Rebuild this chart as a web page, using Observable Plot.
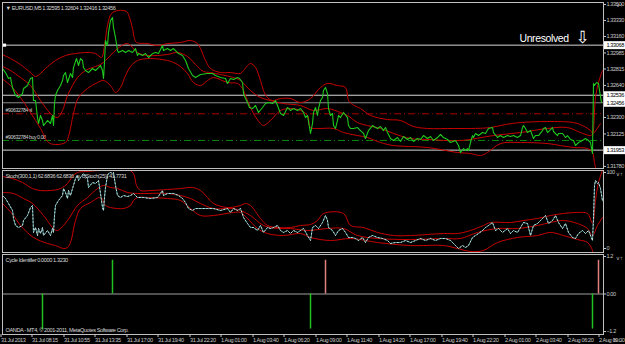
<!DOCTYPE html>
<html><head><meta charset="utf-8">
<script src="https://cdn.jsdelivr.net/npm/d3@7"></script>
<script src="https://cdn.jsdelivr.net/npm/@observablehq/plot@0.6"></script>
<style>
html,body{margin:0;padding:0;background:#000;}
#chart{position:relative;width:625px;height:344px;background:#000;overflow:hidden;}
#chart svg{display:block;}
</style></head><body><div id="chart"></div>
<script>
const FONT = '"Liberation Sans",Arial,sans-serif';

// ---------- data ----------
const symbolHeader = "\u25BC EURUSD,M5 1.32595 1.32604 1.32416 1.32456";
const stochHeader = "Stoch(300,1,1) 62.6836 62.6836  \u221E  c(Stoch(25)) 41.7731";
const cycleHeader = "Cycle Identifier 0.0000 1.3230";
const copyright = "OANDA - MT4, \u00A9 2001-2011, MetaQuotes Software Corp.";

const timeTickBars = [0,31,63,94,126,157,189,220,252,283,315,346,378,409,441,472,504,535,567,598];
const timeTickLabels = ["31 Jul 2013","31 Jul 08:15","31 Jul 10:55","31 Jul 13:35","31 Jul 17:00","31 Jul 19:40","31 Jul 22:20","1 Aug 01:00","1 Aug 03:40","1 Aug 06:20","1 Aug 09:00","1 Aug 11:40","1 Aug 14:20","1 Aug 17:00","1 Aug 19:40","1 Aug 22:20","2 Aug 01:00","2 Aug 03:40","2 Aug 06:20","2 Aug 09:00"];

const priceTicks = [1.335,1.3333,1.3316,1.32985,1.32815,1.3264,1.3247,1.323,1.32125,1.3195,1.3178];
const whiteLevels = [1.33068,1.32536,1.31953];
const bidLevel = [1.32456];
const boxLevels = [1.33068,1.32536,1.32456,1.31953];
const orderLevels = [1.32339,1.32056];
const orderLabels = ["#90632784 sl","#90632784 buy 0.08"];
const orderKinds = ["sl","buy"];
const note = {text:"Unresolved", bar:519, arrowBar:582, level:1.33068};

const price = [[2,1.32820],[5,1.32777],[8,1.32714],[10,1.32724],[12,1.32618],[15,1.32533],[18,1.32512],[22,1.32554],[23,1.32607],[27,1.32639],[30,1.32714],[32,1.32724],[33,1.32480],[35,1.32480],[37,1.32299],[38,1.32236],[40,1.32321],[42,1.32268],[43,1.32214],[47,1.32268],[50,1.32236],[52,1.32321],[53,1.32214],[54,1.32448],[55,1.32533],[57,1.32586],[60,1.32639],[62,1.32692],[63,1.32745],[65,1.32777],[67,1.32671],[70,1.32767],[72,1.32724],[73,1.32830],[76,1.32926],[78,1.32852],[80,1.32926],[82,1.32905],[83,1.32830],[85,1.32799],[88,1.32777],[92,1.32820],[95,1.32799],[98,1.32830],[100,1.32852],[102,1.32799],[103,1.32714],[104,1.32884],[105,1.33117],[107,1.33064],[108,1.33202],[110,1.33330],[112,1.33361],[113,1.33255],[115,1.33149],[117,1.33011],[118,1.32990],[122,1.33011],[125,1.32990],[128,1.33011],[132,1.32990],[135,1.33032],[137,1.32958],[138,1.32979],[142,1.32958],[145,1.32979],[148,1.32937],[152,1.32979],[155,1.32990],[158,1.32979],[162,1.33064],[163,1.33011],[167,1.33032],[170,1.33011],[173,1.33032],[175,1.33011],[178,1.32979],[182,1.32958],[185,1.32905],[188,1.32820],[192,1.32745],[195,1.32724],[200,1.32756],[207,1.32767],[212,1.32767],[215,1.32745],[220,1.32724],[225,1.32714],[227,1.32661],[230,1.32714],[233,1.32703],[237,1.32724],[239,1.32714],[242,1.32671],[243,1.32554],[245,1.32501],[247,1.32459],[249,1.32406],[252,1.32395],[255,1.32427],[258,1.32353],[262,1.32406],[265,1.32448],[268,1.32459],[272,1.32448],[275,1.32480],[277,1.32427],[280,1.32342],[283,1.32321],[287,1.32406],[290,1.32374],[293,1.32395],[297,1.32374],[300,1.32395],[303,1.32353],[305,1.32299],[307,1.32321],[310,1.32130],[312,1.32236],[313,1.32353],[315,1.32406],[317,1.32321],[318,1.32395],[320,1.32480],[322,1.32512],[323,1.32586],[325,1.32618],[327,1.32554],[328,1.32395],[330,1.32321],[332,1.32342],[333,1.32214],[335,1.32183],[337,1.32268],[338,1.32321],[340,1.32299],[343,1.32353],[347,1.32299],[348,1.32214],[350,1.32183],[353,1.32183],[357,1.32193],[360,1.32161],[363,1.32130],[365,1.32076],[368,1.32161],[372,1.32214],[375,1.32193],[377,1.32183],[380,1.32204],[383,1.32161],[385,1.32193],[387,1.32140],[390,1.32076],[393,1.32055],[397,1.32087],[400,1.32045],[403,1.32098],[407,1.32066],[410,1.32087],[413,1.32045],[417,1.32076],[420,1.32066],[423,1.32108],[427,1.32076],[430,1.32098],[433,1.32055],[437,1.32087],[440,1.32119],[443,1.32087],[447,1.32066],[450,1.32034],[455,1.32055],[458,1.32002],[460,1.31928],[463,1.31970],[465,1.31949],[467,1.31970],[468,1.31949],[470,1.32034],[472,1.32108],[473,1.32087],[475,1.32130],[478,1.32108],[482,1.32140],[485,1.32130],[488,1.32183],[492,1.32193],[493,1.32140],[497,1.32087],[500,1.32108],[503,1.32087],[507,1.32108],[510,1.32098],[513,1.32108],[517,1.32087],[520,1.32108],[522,1.32193],[523,1.32214],[525,1.32183],[527,1.32140],[530,1.32161],[533,1.32076],[535,1.32108],[538,1.32108],[542,1.32161],[543,1.32183],[545,1.32193],[547,1.32140],[550,1.32172],[552,1.32193],[553,1.32151],[557,1.32108],[558,1.32130],[562,1.32130],[565,1.32087],[567,1.32108],[570,1.32066],[573,1.32055],[575,1.32002],[578,1.32034],[582,1.32055],[585,1.32076],[588,1.32055],[590,1.32034],[592,1.31917],[593,1.32661],[594,1.32639],[596,1.32671],[598,1.32661],[599,1.32586],[601,1.32459]];

const bandUpper = [[0,1.32979],[10,1.32926],[20,1.32862],[30,1.32777],[35,1.32735],[40,1.32767],[45,1.32820],[55,1.32905],[65,1.32958],[75,1.32979],[85,1.32990],[95,1.32979],[101,1.32937],[104,1.33064],[107,1.33277],[111,1.33404],[118,1.33436],[126,1.33425],[129,1.33361],[132,1.33245],[134,1.33138],[136,1.33096],[147,1.33085],[157,1.33064],[167,1.33085],[180,1.33096],[190,1.33117],[197,1.33085],[200,1.33032],[205,1.32905],[210,1.32820],[220,1.32777],[230,1.32777],[240,1.32767],[243,1.32799],[250,1.32873],[255,1.32830],[260,1.32692],[263,1.32586],[267,1.32512],[272,1.32480],[280,1.32501],[290,1.32501],[300,1.32459],[310,1.32501],[320,1.32618],[327,1.32661],[337,1.32639],[345,1.32618],[348,1.32480],[352,1.32438],[360,1.32395],[370,1.32321],[387,1.32278],[400,1.32268],[413,1.32204],[427,1.32183],[453,1.32183],[470,1.32183],[490,1.32193],[505,1.32225],[520,1.32246],[547,1.32257],[573,1.32246],[582,1.32214],[590,1.32161],[592,1.32130],[595,1.32512],[598,1.32671],[602,1.32799]];

const bandMiddle = [[0,1.32852],[10,1.32799],[20,1.32724],[30,1.32639],[40,1.32480],[50,1.32342],[57,1.32299],[62,1.32374],[67,1.32533],[72,1.32639],[77,1.32724],[85,1.32799],[95,1.32841],[100,1.32862],[105,1.32905],[110,1.32958],[117,1.33032],[127,1.33085],[137,1.32990],[147,1.32958],[167,1.32969],[177,1.32990],[187,1.32947],[197,1.32841],[203,1.32788],[210,1.32777],[220,1.32756],[233,1.32724],[240,1.32692],[250,1.32586],[260,1.32512],[270,1.32480],[283,1.32448],[300,1.32427],[313,1.32374],[327,1.32395],[340,1.32353],[347,1.32321],[357,1.32246],[367,1.32214],[380,1.32183],[393,1.32130],[410,1.32076],[427,1.32066],[460,1.32055],[493,1.32108],[520,1.32140],[547,1.32183],[567,1.32193],[580,1.32140],[590,1.32108],[593,1.32130],[600,1.32236]];

const bandLower = [[0,1.32724],[10,1.32639],[20,1.32512],[30,1.32353],[40,1.32183],[48,1.32034],[55,1.32013],[65,1.32034],[68,1.32098],[73,1.32342],[78,1.32512],[87,1.32607],[97,1.32671],[103,1.32692],[110,1.32639],[115,1.32565],[120,1.32618],[125,1.32745],[130,1.32841],[137,1.32905],[150,1.32926],[167,1.32905],[173,1.32884],[180,1.32841],[187,1.32767],[193,1.32671],[200,1.32639],[207,1.32692],[213,1.32724],[227,1.32671],[237,1.32661],[242,1.32607],[247,1.32480],[253,1.32342],[260,1.32236],[263,1.32214],[270,1.32268],[280,1.32374],[290,1.32395],[300,1.32374],[307,1.32321],[310,1.32193],[317,1.32183],[333,1.32183],[343,1.32140],[357,1.32108],[367,1.32087],[380,1.32034],[393,1.32002],[427,1.31981],[457,1.31928],[470,1.31917],[480,1.31896],[487,1.31928],[500,1.32023],[520,1.32034],[547,1.32023],[560,1.32002],[573,1.31981],[587,1.31970],[592,1.31928],[594,1.31822],[596,1.31715]];

const stoch = [[2,69.7],[5,65.8],[8,59.2],[12,50.0],[13,39.5],[15,30.3],[18,27.6],[22,30.3],[23,36.8],[27,43.4],[30,53.9],[32,56.6],[33,21.1],[35,27.6],[37,17.1],[38,26.3],[40,19.7],[42,27.6],[43,17.1],[47,23.7],[50,17.1],[52,26.3],[53,21.1],[54,43.4],[55,56.6],[58,63.2],[62,69.7],[63,78.9],[65,73.7],[67,65.8],[68,76.3],[70,69.7],[72,78.9],[73,82.9],[75,92.1],[77,96.1],[78,89.5],[80,93.4],[83,98.7],[87,92.1],[88,80.3],[92,86.8],[95,85.5],[98,89.5],[100,72.4],[102,53.9],[103,50.0],[104,67.1],[105,80.3],[107,96.1],[108,98.7],[110,100],[112,98.7],[113,100],[115,82.9],[117,69.7],[120,67.1],[123,69.7],[127,68.4],[130,69.7],[133,72.4],[137,67.1],[143,67.1],[150,65.8],[157,67.1],[162,76.3],[163,69.7],[167,72.4],[173,72.4],[178,69.7],[182,65.8],[185,60.5],[188,52.6],[192,50.0],[195,52.6],[200,52.6],[207,52.6],[213,52.6],[220,50.0],[227,52.6],[230,47.4],[233,52.6],[237,50.0],[240,52.6],[243,40.8],[247,32.9],[250,27.6],[253,27.6],[257,23.7],[260,30.3],[263,21.1],[267,27.6],[270,26.3],[273,27.6],[277,30.3],[280,23.7],[283,21.1],[287,23.7],[290,19.7],[293,23.7],[297,21.1],[300,23.7],[303,26.3],[307,17.1],[310,10.5],[312,27.6],[315,30.3],[318,26.3],[322,34.2],[325,43.4],[327,36.8],[328,27.6],[332,23.7],[335,17.1],[338,23.7],[342,26.3],[345,21.1],[348,14.5],[352,14.5],[355,13.2],[358,10.5],[362,14.5],[365,7.9],[368,14.5],[372,17.1],[377,14.5],[382,13.2],[387,10.5],[390,6.6],[395,7.9],[400,7.9],[405,10.5],[410,7.9],[415,10.5],[420,13.2],[425,10.5],[430,13.2],[435,10.5],[440,13.2],[445,13.2],[450,10.5],[455,3.9],[458,0],[462,3.9],[465,1.3],[468,3.9],[472,14.5],[475,17.1],[478,19.7],[482,23.7],[485,27.6],[488,30.3],[492,34.2],[495,23.7],[498,26.3],[502,21.1],[507,26.3],[510,19.7],[513,23.7],[517,21.1],[520,27.6],[523,34.2],[527,32.9],[530,17.1],[533,30.3],[537,32.9],[540,36.8],[545,43.4],[548,32.9],[552,36.8],[555,43.4],[558,34.2],[562,26.3],[565,32.9],[568,21.1],[572,14.5],[575,13.2],[578,19.7],[582,23.7],[585,19.7],[588,23.7],[592,10.5],[593,39.5],[594,82.9],[595,89.5],[597,85.5],[598,86.8],[600,78.9],[602,62.7]];

const stochUpper = [[2,94.7],[12,92.1],[22,86.8],[32,78.9],[40,76.3],[50,76.3],[60,78.9],[67,85.5],[72,94.7],[77,100],[85,101.3],[100,102.6],[113,102.6],[127,103.9],[133,98.7],[136,82.9],[140,76.3],[150,76.3],[167,77.6],[180,78.9],[192,80.3],[200,76.3],[207,67.1],[213,59.2],[227,53.9],[240,56.6],[245,59.2],[250,56.6],[260,39.5],[267,30.3],[277,27.6],[290,27.6],[300,30.3],[310,31.6],[317,36.8],[323,46.1],[343,46.1],[350,30.3],[363,27.6],[377,21.1],[393,17.1],[410,17.1],[443,19.7],[457,19.7],[470,23.7],[483,30.3],[490,34.2],[510,34.2],[523,36.8],[537,39.5],[550,43.4],[563,46.1],[577,47.4],[587,46.1],[592,32.9],[595,63.2],[598,86.8],[602,102.6]];
const stochMiddle = [[2,73.7],[13,72.4],[23,65.8],[32,59.2],[43,43.4],[53,26.3],[57,23.7],[67,36.8],[77,56.6],[87,67.1],[97,78.9],[103,82.9],[110,80.3],[117,78.9],[127,73.7],[137,72.4],[167,72.4],[180,69.7],[190,65.8],[200,59.2],[213,52.6],[233,52.6],[240,50.0],[250,43.4],[263,30.3],[277,26.3],[290,26.3],[307,23.7],[327,26.3],[343,26.3],[357,17.1],[377,13.2],[410,11.8],[443,13.2],[460,13.2],[477,21.1],[497,26.3],[517,26.3],[537,30.3],[550,34.2],[563,36.8],[577,32.9],[587,26.3],[592,17.1],[597,30.3],[602,40.8]];
const stochLower = [[2,59.2],[7,52.6],[13,43.4],[20,30.3],[33,14.5],[47,6.6],[55,3.9],[63,0],[67,1.3],[70,7.9],[75,36.8],[80,52.6],[90,60.5],[100,67.1],[105,56.6],[110,53.9],[117,52.6],[123,52.6],[130,56.6],[133,63.2],[137,67.1],[147,67.1],[167,65.8],[180,63.2],[190,52.6],[200,43.4],[213,43.4],[233,47.4],[240,47.4],[247,39.5],[257,26.3],[267,19.7],[283,17.1],[300,19.7],[310,14.5],[330,10.5],[350,13.2],[377,7.9],[410,3.9],[443,3.9],[457,0],[470,-3.9],[483,-2.6],[497,7.9],[517,14.5],[537,17.1],[550,21.1],[563,17.1],[577,11.8],[587,7.9],[592,-2.6],[594,-18.4]];

const cycleBars = [42,112,310,325,592,598];
const cycleVals = [-1.15,1.08,-1.12,1.08,-1.12,1.08];
const cycleKind = ["low","low","low","high","low","high"];

// ---------- layout ----------
const W = 625, MR = 22, ML = 2;
const frameRight = W - MR;
const xScale = {domain:[0, W], range:[0, W]};
const fmt5 = d3.format(".5f");
const baseStyle = {background:"#000", color:"#c8c8c8", fontFamily: FONT, fontSize:"5.6px", letterSpacing:"-0.4px", overflow:"visible"};
const RED = "#c80000", GREEN = "#1ec81e";
const P = arr => arr.map(([b,v]) => ({b, v}));
const L = (arr, o) => Plot.line(P(arr), {x:"b", y:"v", clip:true, strokeWidth: 1, ...o});

const mainPlot = Plot.plot({
  width: W, height: 169, marginLeft: ML, marginRight: MR, marginTop: 2, marginBottom: 1,
  style: baseStyle,
  x: {...xScale, axis: null},
  y: {domain:[1.31758, 1.33521], axis: null},
  marks: [
    Plot.ruleY(whiteLevels, {stroke:"#d8d8d8"}),
    Plot.ruleY(bidLevel, {stroke:"#8c8c8c"}),
    Plot.ruleY(orderLevels, {stroke: (d,i) => orderKinds[i] === "sl" ? "#a80000" : "#0a8a0a", strokeDasharray:"7,3,1,3"}),
    Plot.text(orderLevels, {y: d=>d, text: (d,i)=>orderLabels[i], frameAnchor:"left", dx: 3, dy: -3.5, textAnchor:"start", fill:"#d0d0d0", fontSize: 5.2}),
    L(bandUpper, {stroke: RED, curve:"catmull-rom"}),
    L(bandMiddle, {stroke: RED, curve:"catmull-rom"}),
    L(bandLower, {stroke: RED, curve:"catmull-rom"}),
    L(price, {stroke: GREEN, strokeWidth: 1.1}),
    Plot.dot([note.level], {y: d=>d, frameAnchor:"left", dx: 2, symbol:"square", r: 1.8, fill:"#fff"}),
    Plot.text([note.text], {x: note.bar, y: note.level, dy: -7, textAnchor:"start", fill:"#fff", fontSize: 10.5}),
    Plot.text(["\u21E9"], {x: note.arrowBar, y: note.level, dy: -8, fill:"#fff", fontSize: 17, fontFamily:"DejaVu Sans, sans-serif"}),
    Plot.text([symbolHeader], {frameAnchor:"top-left", dx: 3, dy: 3.5, textAnchor:"start", fill:"#d8d8d8"}),
    Plot.frame({stroke:"#c0c0c0"}),
    Plot.axisY({ticks: priceTicks, anchor:"right", tickFormat: fmt5, tickSize: 2, tickPadding: 1}),
    Plot.ruleY(boxLevels, {x1: frameRight + 1, x2: W, stroke:"#fff", strokeWidth: 8}),
    Plot.text(boxLevels, {y: d=>d, text: fmt5, frameAnchor:"right", dx: 3, textAnchor:"start", fill:"#000"})
  ]
});

const stochPlot = Plot.plot({
  width: W, height: 84, marginLeft: ML, marginRight: MR, marginTop: 1, marginBottom: 1,
  style: baseStyle,
  x: {...xScale, axis: null},
  y: {domain:[-5.26, 102.63], axis: null},
  marks: [
    L(stochUpper, {stroke: RED, curve:"catmull-rom"}),
    L(stochMiddle, {stroke: RED, curve:"catmull-rom"}),
    L(stochLower, {stroke: RED, curve:"catmull-rom"}),
    L(stoch, {stroke:"#4f9696"}),
    L(stoch, {stroke:"#ffffff", strokeDasharray:"1,2.5", strokeOpacity: 0.7}),
    Plot.text([stochHeader], {frameAnchor:"top-left", dx: 3, dy: 4, textAnchor:"start", fill:"#d8d8d8"}),
    Plot.frame({stroke:"#c0c0c0"}),
    Plot.axisY({ticks:[0,100], anchor:"right", tickSize: 2, tickPadding: 1})
  ]
});

const cycle = cycleBars.map((b,i) => ({b, v: cycleVals[i], k: cycleKind[i]}));
const tickLabel = new Map(timeTickBars.map((b,i) => [b, timeTickLabels[i]]));
const cyclePlot = Plot.plot({
  width: W, height: 91, marginLeft: ML, marginRight: MR, marginTop: 1, marginBottom: 10,
  style: baseStyle,
  x: {...xScale, axis: null},
  y: {domain:[-1.296, 1.264], axis: null},
  marks: [
    Plot.ruleY([0], {stroke:"#a0a0a0"}),
    Plot.ruleX(cycle, {x:"b", y1: 0, y2:"v", stroke: d => d.k === "high" ? "#e08080" : "#22c022", strokeWidth: 1.5}),
    Plot.text([cycleHeader], {frameAnchor:"top-left", dx: 3, dy: 4, textAnchor:"start", fill:"#d8d8d8"}),
    Plot.text([copyright], {frameAnchor:"bottom-left", dx: 3, dy: -3, textAnchor:"start", fill:"#d8d8d8"}),
    Plot.frame({stroke:"#c0c0c0"}),
    Plot.axisY({ticks:[-1.2,0,1.2], anchor:"right", tickSize: 2, tickPadding: 1, tickFormat: d => d === 0 ? "0.00" : d3.format(".1f")(d)}),
    Plot.axisX({ticks: timeTickBars, anchor:"bottom", tickSize: 3, tickPadding: 1, tickFormat: d => tickLabel.get(d), textAnchor:"start", dx: 0.5})
  ]
});

const root = document.getElementById("chart");
root.append(mainPlot, stochPlot, cyclePlot);
</script></body></html>
